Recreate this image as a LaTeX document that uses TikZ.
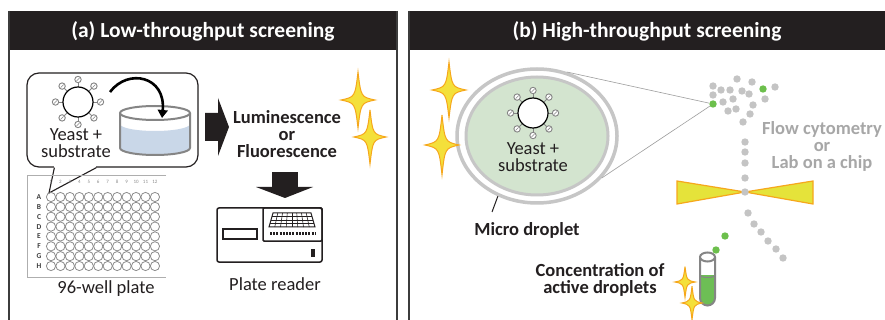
\documentclass[tikz,border=0pt]{standalone}
\usepackage{fontspec}
\setmainfont{Carlito}
\usetikzlibrary{arrows.meta,shapes.geometric,calc}

\definecolor{hdr}{HTML}{231F20}
\definecolor{ink}{HTML}{231F20}
\definecolor{frame}{HTML}{3C3C3C}
\definecolor{starfill}{HTML}{F4E03A}
\definecolor{starline}{HTML}{F6A71C}
\definecolor{dropgreen}{HTML}{D3E4CF}
\definecolor{ring}{HTML}{C6C6C6}
\definecolor{dotgray}{HTML}{C4C4C4}
\definecolor{dotgreen}{HTML}{6CBF4C}
\definecolor{flowgray}{HTML}{A7A7A7}
\definecolor{laser}{HTML}{E5E33A}
\definecolor{liquid}{HTML}{C9D7E8}
\definecolor{tubegreen}{HTML}{6DBE55}
\definecolor{outline}{HTML}{858585}
\definecolor{wellgray}{HTML}{8C8C8C}

\tikzset{
  title/.style={text=white, font=\fontsize{21.5}{24}\selectfont\bfseries, inner sep=0pt},
  reg/.style={text=ink, font=\fontsize{18.5}{17}\selectfont, align=center, inner sep=0pt},
  bld/.style={text=ink, font=\fontsize{18.5}{17}\selectfont\bfseries, align=center, inner sep=0pt},
  sparkle/.pic={
    \filldraw[fill=starfill, draw=starline, line width=1pt]
      (0,-28) .. controls (3,-3) .. (17,0) .. controls (3,3) .. (0,28)
      .. controls (-3,3) .. (-17,0) .. controls (-3,-3) .. cycle;
  },
  yeast/.pic={
    \foreach \a in {0,45,...,315}{
      \draw[outline, line width=0.9pt] (\a:15) -- (\a:19.3);
      \filldraw[fill=white, draw=outline, line width=0.9pt] (\a:22.5) circle (3.2);
      \draw[outline, line width=0.6pt] ($(\a:22.5)+(-1.5,1.5)$) -- ($(\a:22.5)+(1.5,-1.5)$);
    }
    \filldraw[fill=white, draw=black, line width=1.2pt] (0,0) circle (15);
  },
  dot/.style={circle, fill=dotgray, minimum size=7.4pt, inner sep=0pt},
  gdot/.style={circle, fill=dotgreen, minimum size=7.4pt, inner sep=0pt},
  bubble/.style={draw=ink, line width=1.2pt, fill=white, rounded corners=12pt,
    minimum width=171pt, minimum height=94pt, inner sep=0pt},
  pointer/.style={draw=ink, line width=1.1pt},
  zoomline/.style={draw=ring!80!black, line width=0.6pt},
}

\begin{document}
\begin{tikzpicture}[x=1pt, y=-1pt]
\useasboundingbox (0,0) rectangle (885,320);
\fill[white] (0,0) rectangle (885,320);

% ---------- panel frames and headers ----------
\fill[hdr] (9,11) rectangle (397,50);
\fill[hdr] (409,11) rectangle (885,50);
\draw[frame, line width=2pt] (9,11) -- (9,320);
\draw[frame, line width=2pt] (397,11) -- (397,320);
\draw[frame, line width=2pt] (409,11) -- (409,320);
\node[title] (ta) at (203,31) {(a) Low-throughput screening};
\node[title] (tb) at (647,31) {(b) High-throughput screening};

% ---------- (a) speech bubble with yeast and dish ----------
\node[bubble] (bubble) at (112.5,120) {};
\coordinate (tailL) at ($(bubble.south west)+(28,0)$);
\coordinate (tailR) at ($(bubble.south west)+(70,0)$);
\coordinate (tailTip) at (49,193);
\fill[white] ($(tailL)+(0,-1.5)$) rectangle ($(tailR)+(0,1.5)$);
\draw[pointer, line join=miter] (tailL) -- (tailTip) -- (tailR);

\pic at (78,102) {yeast};
\coordinate (cell1) at (78,102);
\node[reg] (ys1) at (76,143) {Yeast +\\substrate};

% dish
\coordinate (dish) at (155,113);
\fill[liquid] (120,124) arc (180:0:35 and 7) -- (190,148) arc (0:180:35 and 7) -- cycle;
\draw[outline, line width=2pt] (120,113) -- (120,148) arc (180:0:35 and 7) -- (190,113);
\draw[outline, line width=2pt, fill=white] (dish) ellipse (35 and 7);
\draw[black, line width=2.6pt, -{Triangle[length=8pt, width=10pt]}]
  ($(cell1)+(32,-10)$) .. controls (128,68) and (166,76) .. ($(dish)+(7,5)$);

% block arrow to the readout
\fill[ink] (205,113) -- (218,113) -- (218,98) -- (229,127) -- (218,156) -- (218,141) -- (205,141) -- cycle;
\node[bld] (lum) at (287,134) {Luminescence\\or\\Fluorescence};
\pic at (358,100) {sparkle};
\pic[xscale=0.95, yscale=0.97] at (370,137) {sparkle};

% down arrow
\fill[ink] (272,172) rectangle (298,187);
\fill[ink] (256,187) -- (313,187) -- (285,198) -- cycle;

% ---------- 96-well plate ----------
\draw[wellgray!70, line width=1pt] (166,176) -- (27,176) -- (27,277) -- (166,277);
\foreach \c in {1,...,12}{
  \node[text=wellgray, font=\fontsize{5}{5}\selectfont, inner sep=0pt] (col\c) at ({51+9.45*(\c-1)},182) {\c};
  \foreach \r in {1,...,8}{
    \draw[wellgray, line width=0.8pt] ({51+9.45*(\c-1)},{197+9.86*(\r-1)}) circle (4.6);
  }
}
\foreach \l [count=\r] in {A,B,C,D,E,F,G,H}{
  \node[text=frame, font=\fontsize{7.5}{7.5}\selectfont\bfseries, inner sep=0pt] (row\l) at (39,{197+9.86*(\r-1)}) {\l};
}
\node[reg] (plab) at (106,289) {96-well plate};

% ---------- plate reader ----------
\draw[ink, line width=1.5pt, rounded corners=2pt] (217,208) rectangle (322,262);
\draw[ink, line width=1.5pt, rounded corners=1pt] (263,208) rectangle (322,241);
\draw[ink, line width=1.2pt] (223,229) rectangle (257,239);
\fill[ink] (311,249) rectangle (315,257);
\draw[ink, line width=1pt] (273,213) -- (311,213) -- (315,227) -- (269,227) -- cycle;
\foreach \yy in {216.5,220,223.5}{
  \draw[ink, line width=0.6pt] ({273-4*(\yy-213)/14},\yy) -- ({311+4*(\yy-213)/14},\yy);
}
\foreach \k in {1,...,7}{
  \draw[ink, line width=0.6pt] ({273+\k*38/8},213) -- ({269+\k*46/8},227);
}
\draw[ink, line width=3pt, dash pattern=on 2pt off 1.2pt] (270,234) -- (316,234);
\node[reg] (rlab) at (275,284) {Plate reader};

% ---------- (b) droplet ----------
\node[ellipse, draw=ring, line width=3.5pt, fill=white, minimum width=160pt, minimum height=134pt, inner sep=0pt] (drop) at (537,136) {};
\node[ellipse, draw=ring, line width=3pt, fill=dropgreen, minimum width=142pt, minimum height=118pt, inner sep=0pt] (dropin) at (537,136) {};
\pic at (533,113) {yeast};
\node[reg] (ys2) at (533,157) {Yeast +\\substrate};
\pic at (449,90) {sparkle};
\pic[yscale=1.07] at (442,145) {sparkle};

\coordinate (tick) at (492,212);
\draw[pointer, line width=1pt] (drop.237) -- (tick);
\node[bld] (micro) at (527,230) {Micro droplet};

% ---------- sorter ----------
\node[gdot] (hit) at (713,104) {};
\draw[zoomline] (drop.65) -- (hit);
\draw[zoomline] (drop.-33) -- (hit);
\foreach \p in {(737,79),(752,82),(713,86),(721,90),(730,90),(742,91),(749,94),(775,87),
                (713,95),(723,102),(733,99),(753,105),(765,99),(728,111),(736,109),
                (750,114),(743,122),(745,142),(745,152),(745,163),(745,178)}{
  \node[dot] at \p {};
}
\node[gdot] (g1) at (763,89) {};

\filldraw[fill=laser, draw=starline, line width=1.2pt, line join=miter]
  (677,181) -- (745,192) -- (813,181) -- (813,204) -- (745,192) -- (677,204) -- cycle;
\node[dot] (cross) at (745,192) {};
\foreach \p in {(748,213),(754,224),(761,232),(768,241),(776,249),(783,258)}{
  \node[dot] at \p {};
}
\node[bld, text=flowgray] (flow) at (822,146) {Flow cytometry\\or\\Lab on a chip};

% ---------- collection tube ----------
\node[gdot] (g2) at (725,236) {};
\node[gdot] (g3) at (716,250) {};
\fill[tubegreen] (700,275) -- (700,298) arc (180:0:7.5) -- (715,275) -- cycle;
\draw[outline, line width=2pt] (700,257) -- (700,298) arc (180:0:7.5) -- (715,257);
\draw[outline, line width=2pt, fill=white] (707.5,257) ellipse (7.5 and 4.5);
\draw[outline, line width=1pt] (700,275) arc (180:0:7.5 and 2.5);
\pic[xscale=0.6, yscale=0.55] at (685,282) {sparkle};
\pic[xscale=0.6, yscale=0.6] at (692,303) {sparkle};
\node[bld] (conc) at (600,280) {Concentration of\\active droplets};
\end{tikzpicture}
\end{document}
